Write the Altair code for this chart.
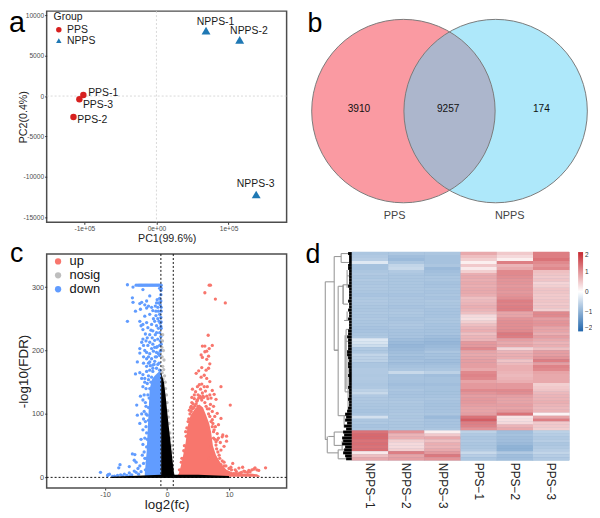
import altair as alt
import pandas as pd

FONT = "Liberation Sans"

# ---------- panel a: PCA ----------
pca_samples = ["PPS-1", "PPS-3", "PPS-2", "NPPS-1", "NPPS-2", "NPPS-3"]
pca_group = ["PPS", "PPS", "PPS", "NPPS", "NPPS", "NPPS"]
pca_pc1 = [-101400, -106900, -115100, 68800, 115500, 138400]
pca_pc2 = [120, -400, -2600, 8100, 6970, -12200]
pca_label_x = [-73900, -81200, -89000, 82000, 128300, 137600]
pca_label_y = [330, -1140, -3020, 9169, 8030, -10920]

# ---------- panel b: Venn ----------
venn_names = ["PPS", "NPPS"]
venn_cx = [405.8, 498.8]
venn_cy = [108.8, 108.8]
venn_counts = ["3910", "9257", "174"]
venn_count_x = [361, 451, 545]
venn_count_y = [107, 107, 107]
venn_name_x = [397, 513]
venn_name_y = [215, 215]

# ---------- panel c: volcano ----------
down_pts = [
 (-10.75,8),(-9.6,3),(-9.5,4.4),(-9.3,5),(-8.8,1.5),(-8.5,2),(-8.0,3),(-7.6,20),(-7.8,15),(-7.5,4),(-7.2,2),(-6.9,5),(-6.5,3),
 (-6.1,17),(-6.1,7),(-6,2),(-5.7,4),(-5.6,37),(-5.3,27),(-5.3,10),(-5.2,36),(-5,24),(-5,8),(-4.7,14),(-4.6,5),(-4.4,18),(-4.2,9),
 (-4.9,114),(-4.8,98),(-4.4,85),(-4.2,60),(-3.9,122),(-3.9,75),(-3.9,52),(-3.7,40),(-3.6,30),(-3.8,22),(-3.5,12),(-3.6,62),(-3.5,88),
 (-3.7,104),(-3.4,112),(-3.3,48),(-3.3,70),(-3.2,24),(-3.2,98),(-3.1,130),(-3.4,140),(-3.6,150),(-3.9,143),(-3.2,148),(-3.0,160),
 (-4.1,156),(-3.6,156),(-3,154),(-5.1,163),(-4.4,165),(-3.9,162),(-3.3,167),(-2.8,169),(-2.3,167),(-1.7,172),(-1.2,169),
 (-4.8,182),(-3.8,190),(-3.3,187),(-2.5,187),(-1.7,190),(-1.2,192),(-3.8,180),(-3,180),(-2.3,177),(-1.3,180),(-2.7,176),(-2,183),(-1.5,178),
 (-4.4,203),(-4.4,196),(-3.3,197),(-2.8,195),(-1.7,197),(-2.2,199),(-1.1,199),(-3.6,200),(-3.1,208),(-2.5,203),(-2,205),(-1.2,208),(-1.6,206),
 (-3.9,218),(-4.1,213),(-2.8,213),(-2,216),(-1.5,218),(-3.4,215),(-1.1,215),(-2.4,220),
 (-3.9,233),(-3.1,236),(-2.3,231),(-1.7,228),(-1.2,228),(-3.5,226),(-2.8,225),(-1.0,222),
 (-6.4,246),(-4.4,246),(-4.2,239),(-3.9,241),(-3.3,244),(-2,246),(-2.5,241),(-1.7,239),(-1.3,246),(-1,238),(-1.1,243),
 (-5.1,262),(-3.6,254),(-2.8,257),(-1.2,257),(-2.3,263),(-1.0,252),(-1.5,250),(-0.95,262),
 (-5.6,283),(-5.5,276),(-4.4,274),(-4.1,276),(-3.3,278),(-3.6,272),(-3,270),(-1.7,275),(-1.3,275),(-1.9,270),(-1.5,268),(-4.3,265),(-3.3,267),
 (-1.1,272),(-1.0,278),(-1.2,282),(-0.95,268),(-2.8,286),(-3.9,296),(-1.6,280),(-1.0,288),(-1.0,295),
 (-6.4,303.6),(-5.5,300),(-5.0,303),(-4.7,303),(-4.5,303),(-4.3,303),(-4.1,303),(-3.9,303),(-3.7,303),(-3.5,303),(-3.3,303),(-3.1,303),
 (-2.9,303),(-2.7,303),(-2.5,303),(-2.3,303),(-2.1,303),(-1.9,303),(-1.7,303),(-1.5,303),(-1.3,303),(-1.1,303),(-0.95,303),
 (-0.95,298),(-1.2,298),(-0.95,235),(-0.95,210),
 (-3.1,20),(-3.4,30),(-3.2,60),(-3,90),(-3.0,110),(-2.9,125),(-2.8,140),(-2.6,150),(-2.5,158),(-2.3,172),(-2.1,178),(-1.9,190),(-1.4,195),
 (-1.0,200),(-1.7,205),(-2.8,182),(-3.3,175),(-3.0,190),(-2.3,210),(-1.9,225),(-2.6,232),(-3.2,220),(-1.4,235),(-0.95,245),(-1.8,255),
 (-2.2,250),(-1.4,262),(-2.5,268),(-1.8,262),(-3.8,208),(-3.5,118),(-3.7,130),(-3.8,92),(-3.4,80),(-4.0,35),(-3.4,100),(-4.1,100),(-4.3,128),
]
up_pts = [
 (6.8,303),(7.0,303),(6.1,291),(7.8,281),(9.4,275),(6.64,224),(7.3,208),(5.7,207),(6.1,207),(6.8,203),(6.1,198),(6.4,199),(5.5,193),(6.7,191),
 (5.7,189),(6.4,186),(6.9,179),(5.6,173),(5.1,168),(4.7,164),(6.7,172),(6.3,169),(6,161),(5.5,158),(6.4,156),(6.9,151),(5.2,146),(5.6,147),
 (6,143),(4.1,139),(4.9,143),(6.5,143),(8.7,143),(7.3,137),(7.6,131),(10.2,114),(7.9,123),(4,126),(4.6,135),(5.4,139),(6.2,136),(5.7,133),
 (6.9,130),(5.0,130),(4.4,124),(4.8,120),(6.6,124),(7.1,125),(7.0,115),(3.9,112),(4.2,116),(7.5,112),(6.8,108),(5.5,125),(6.1,118),(3.6,106),
 (8.1,101),(8.7,93),(7.3,104),(7.7,96),(8.3,83),(7.3,91),(7.6,75),(9,67),(9.6,65),(9.6,57),(8.9,64),(8.1,69),(8.1,59),(9.2,49),(7.9,51),(8.7,43),
 (7,48),(8.4,35),(7.3,38),(6.8,30),(7.8,80),(8.3,62),(7.5,62),(8.6,55),(7.4,85),(3.0,72),(3.1,65),(2.8,50),(2.4,30),(3.4,88),
 (8.7,20),(10.6,22),(9.2,18),(10.3,16),(12.2,16),(11.6,14.7),(11,12),(14.2,15),(14.5,12),(14.8,11),(15.9,15),(13.2,11),(13.7,12),(12.6,9),(12,8),
 (11.7,6.5),(10.8,6),(14,13),(13.4,9),
 (3.7,100),(3.9,104),(4.1,108),(4.3,110),(4.5,113),(4.7,116),(4.9,122),(5.1,125),(5.3,128),(5.6,122),(5.9,126),(6.3,112),(6.5,108),(6.7,100),
 (6.9,96),(7.1,88),(7.3,80),(7.5,72),(7.7,60),(7.9,56),(8.0,45),(8.2,40),(8.5,30),(8.9,26),(9.2,24),(9.5,18),(10,14),(10.4,12),(11.2,9),(12.4,10),
 (13,8),(2.0,12),(2.3,24),(2.7,42),(3.2,78),(3.5,92),(4.0,118),(5.0,112),(4.4,130),(5.8,128),(6.4,128),(3.8,110),
]
nosig_pts = [
 (-0.7,225),(-0.75,215),(-0.6,200),(-0.8,190),(-0.5,185),(-0.7,175),(-0.55,170),(-0.4,160),(-0.3,150),(-0.25,140),(-0.1,130),
 (0,118),(0.1,105),(0.2,95),(0.3,85),(0.45,70),(0.5,62),(0.7,50),(0.8,40),(-0.85,205),(-0.8,165),(-0.65,155),
]
down_edge_x = [-3.6, -3.3, -3.0, -2.8, -2.4, -2.0, -1.5, -0.9]
down_edge_y = [6, 40, 100, 140, 155, 160, 165, 170]
up_edge_x = [1.6, 1.9, 2.2, 2.6, 3.0, 3.3, 3.8, 4.5, 5.2, 5.8, 6.3, 6.8, 7.1, 7.4, 7.9, 8.5, 9, 9.6, 10.5, 12, 13.5, 14.5, 15]
up_edge_y = [2, 6, 17, 35, 55, 80, 98, 108, 115, 110, 98, 85, 72, 50, 35, 25, 18, 12, 8, 6, 6, 5, 2]
wedge_x = [-0.95, -0.5, -0.2, 0, 0.3, 0.6, 0.9, 1.1, 1.25]
wedge_y = [165, 150, 125, 105, 78, 52, 25, 8, 1]
band_x = [-9, -6, -1, 5, 10]
band_y = [1, 2, 4, 4, 2]
fc_lines = [-1, 1]
fdr_lines = [0]

# ---------- panel d: heatmap ----------
heat_samples = ["NPPS−1", "NPPS−2", "NPPS−3", "PPS−1", "PPS−2", "PPS−3"]
NPPS_1 = [-.75,-.7,-.65,-.3,-.8,-.8,-.75,-.7,-.75,-.7,-.75,-.72,-.72,-.75,-.78,-.72,-.7,-.72,-.75,-.75,
          -.72,-.75,-.72,-.75,-.75,-.78,-.78,-.75,-.72,-.3,-.35,-.45,-.7,-.72,-.55,-.6,-.6,-.75,-.75,-.7,
          -.7,-.72,-.7,-.72,-.75,-.72,-.6,-.5,-.7,-.72,-.72,-.75,-.75,-.78,-.75,-.4,-.75,-.72,-.78,-.75,
          1.3,1.4,1.4,1.3,1.35,1.3,1.35,.2,.6,.8]
NPPS_2 = [-.75,-.85,-.9,-.75,-.55,-.5,-.7,-.75,-.75,-.75,-.75,-.75,-.75,-.75,-.78,-.75,-.75,-.75,-.78,-.75,
          -.72,-.75,-.78,-.75,-.72,-.75,-.78,-.78,-.78,-.85,-.9,-.95,-.9,-.85,-.8,-.85,-.8,-.85,-.8,-.75,
          -.5,-.8,-.78,-.8,-.85,-.8,-.75,-.78,-.78,-.75,-.72,-.75,-.75,-.75,-.72,-.75,-.72,-.75,-.75,-.75,
          1.0,.7,.75,.45,.35,.35,.45,1.2,.85,.9]
NPPS_3 = [-.75,-.8,-.8,-.8,-.75,-.9,-.85,-.8,-.75,-.75,-.8,-.78,-.75,-.78,-.75,-.78,-.72,-.75,-.75,-.78,
          -.78,-.78,-.75,-.75,-.78,-.78,-.8,-.78,-.85,-.9,-.95,-.9,-.85,-.75,-.8,-.8,-.85,-.85,-.8,-.75,
          -.6,-.85,-.8,-.8,-.85,-.8,-.8,-.8,-.78,-.75,-.78,-.8,-.78,-.78,-.75,-.9,-.78,-.78,-.78,-.75,
          .15,.5,.8,.6,.75,.7,.8,.95,1.25,1.0]
PPS_1 = [.8,.6,.45,.15,.5,.2,.45,.75,.8,.75,.8,.75,.8,.8,.75,.6,.65,.7,.75,.7,
         .6,.35,.3,.45,.6,.7,.75,.6,.7,.7,.95,.95,1.1,.85,.8,.85,.9,.9,.9,.8,
         1.1,1.15,1.1,.85,.95,.95,1.1,1.0,.9,.95,.95,.9,.85,.85,.9,1.3,1.5,1.2,1.15,1.0,
         -.6,-.7,-.75,-.7,-.75,-.75,-.7,-.5,-.65,-.75]
PPS_2 = [.5,.35,.15,1.2,.7,.8,1.1,1.1,1.05,1.0,1.0,.95,1,.95,1.0,1.05,1.2,1.15,1.2,1.2,
         .85,.85,1.0,1.05,1.05,1.05,1.1,1.25,1.2,.9,.8,.85,.4,.7,.75,.75,.55,.65,.75,.75,
         .7,.65,.7,.75,.95,.95,1.1,1.05,.9,.85,.85,.9,.85,.95,1.3,.25,.3,.35,.7,.8,
         -.85,-.8,-.85,-.85,-.9,-1.0,-1.0,-.7,-.85,-.85]
PPS_3 = [1.2,1.2,1.3,1.1,1.0,1.1,.6,.55,.5,.55,.4,.45,.55,.55,.5,.5,.55,.5,.55,.45,
         1.1,1.1,.9,1.0,1.0,.85,.85,.75,.9,.8,.7,.75,.6,.9,.9,1.0,1.2,.9,1.15,1.1,
         .85,.8,.8,.8,.45,.5,.55,.65,.7,.7,.75,.7,.65,.7,.1,.85,1.2,.5,.5,.45,
         -.6,-.65,-.7,-.65,-.75,-.7,-.65,-.55,-.65,-.7]
heat_columns = [NPPS_1, NPPS_2, NPPS_3, PPS_1, PPS_2, PPS_3]

leaf_len = [4,3,3,3,4,4,3,3,3,3,3,4,3,3,3,3,4,3,3,4,
            3,3,4,3,3,3,4,4,5,4,4,4,4,5,5,4,3,4,4,3,
            3,4,3,3,3,4,3,3,3,4,3,3,4,5,7,6,7,5,8,6,
            9,8,10,9,10,7,8,9,7,6]
# dendrogram segments: height from, height to, row from, row to
seg_d1 = [27,27,27,18,18,18,11,11,11,18,14,14,14,9,9,9,5,8,7,6,5,4,8,8,
          25,27,18,24,18,18,10,10,25,14,14,14,9,6,6,4,7,5]
seg_d2 = [27,18,25,18,11,14,11,3,3,14,14,9,7,9,3,4,5,4,7,3,5,4,8,3,
          25,25,18,18,6,10,10,4,14,14,8,6,9,3,6,2,2,2]
seg_r1 = [10,10,63,1.5,1.5,33,.5,.5,3.5,33,11.5,11.5,55,11,11,17.5,20,23,28,30,6,33,55,55,
          62,63,60.5,62,60.5,65,63.5,63.5,67.5,66.5,66.5,69.5,11,26,26,40,47,8]
seg_r2 = [63,10,63,33,1.5,33,3.5,.5,3.5,33,55,11.5,55,17.5,11,17.5,23,23,47,30,12,54,59,55,
          67.5,63,65,62,60.5,65,66.5,63.5,67.5,69.5,66.5,69.5,17.5,26,46,40,47,8]

# ---------- helpers ----------
def letter(ch, x, y, size=27):
    return alt.Chart(pd.DataFrame({"t": [ch]})).mark_text(
        font=FONT, fontSize=size, align="left", baseline="alphabetic", color="black"
    ).encode(text="t:N", x=alt.value(x), y=alt.value(y))

frame = alt.ViewConfig(stroke="#4d4d4d", strokeWidth=1.5)
noframe = alt.ViewConfig(stroke="transparent")
INDEP = dict(color="independent", shape="independent", stroke="independent", x="independent", y="independent")

# ---------- build a ----------
a_df = pd.DataFrame({"pc1": pca_pc1, "pc2": pca_pc2, "group": pca_group, "sample": pca_samples,
                     "lx": pca_label_x, "ly": pca_label_y})
a_xs = alt.Scale(domain=[-152300, 180600], nice=False, zero=False)
a_ys = alt.Scale(domain=[-15650, 10525], nice=False, zero=False)
ax_common = dict(grid=False, domain=False, labelFont=FONT, titleFont=FONT, tickColor="#333333",
                 labelColor="#4d4d4d", titleColor="#222222", tickSize=2, labelPadding=1)
a_xax = alt.Axis(values=[-100000, 0, 100000], labelExpr="datum.value==0?'0e+00':(datum.value<0?'-1e+05':'1e+05')",
                 title="PC1(99.6%)", labelFontSize=6.7, titleFontSize=10.8, titleFontWeight="normal",
                 titlePadding=1, **ax_common)
a_yax = alt.Axis(values=[-15000, -10000, -5000, 0, 5000, 10000], labelExpr="''+datum.value",
                 title="PC2(0.4%)", labelFontSize=6.7, titleFontSize=10.8, titleFontWeight="normal",
                 titlePadding=-5, **ax_common)
def aX(f): return alt.X(f, scale=a_xs, axis=a_xax)
def aY(f): return alt.Y(f, scale=a_ys, axis=a_yax)
a_v = alt.Chart(pd.DataFrame({"pc1": [0]})).mark_rule(color="#cfcfcf", strokeDash=[2, 2], strokeWidth=0.8).encode(x=aX("pc1:Q"))
a_h = alt.Chart(pd.DataFrame({"pc2": [0]})).mark_rule(color="#cfcfcf", strokeDash=[2, 2], strokeWidth=0.8).encode(y=aY("pc2:Q"))
a_pts = alt.Chart(a_df).mark_point(filled=True, opacity=1).encode(
    x=aX("pc1:Q"), y=aY("pc2:Q"),
    color=alt.Color("group:N", scale=alt.Scale(domain=["PPS", "NPPS"], range=["#D7201F", "#1F78B4"]),
                    legend=alt.Legend(orient="none", legendX=7, legendY=1, title="Group", titleFont=FONT,
                                      labelFont=FONT, titleFontSize=10.5, titleFontWeight="normal",
                                      labelFontSize=10.5, symbolSize=30, rowPadding=0, padding=0, titlePadding=2,
                                      labelOffset=3, titleColor="#222222", labelColor="#222222")),
    shape=alt.Shape("group:N", scale=alt.Scale(domain=["PPS", "NPPS"], range=["circle", "triangle-up"])),
    size=alt.condition(alt.datum.group == "PPS", alt.value(42), alt.value(80)),
)
a_txt = alt.Chart(a_df).mark_text(font=FONT, fontSize=10.5, color="#1a1a1a").encode(
    x=aX("lx:Q"), y=aY("ly:Q"), text="sample:N")
panel_a = alt.layer(a_v, a_h, a_pts, a_txt, letter("a", -38, 21, 29)).properties(width=242, height=213, view=frame)

# ---------- build b ----------
b_xs = alt.Scale(domain=[327, 577], nice=False, zero=False)
b_ys = alt.Scale(domain=[222, 8], nice=False, zero=False)
def bX(f): return alt.X(f, scale=b_xs, axis=None)
def bY(f): return alt.Y(f, scale=b_ys, axis=None)
b_df = pd.DataFrame({"cx": venn_cx, "cy": venn_cy, "name": venn_names})
R_AREA = 34225
b_left = alt.Chart(b_df[b_df.name == "PPS"]).mark_circle(size=R_AREA, color="#FA9AA2", opacity=1).encode(x=bX("cx:Q"), y=bY("cy:Q"))
b_right = alt.Chart(b_df[b_df.name == "NPPS"]).mark_circle(size=R_AREA, color="#5DD1F5", opacity=0.5).encode(x=bX("cx:Q"), y=bY("cy:Q"))
b_ring = alt.Chart(b_df).mark_point(size=R_AREA, shape="circle", filled=False, color="#7a7a7a", strokeWidth=1, opacity=1).encode(x=bX("cx:Q"), y=bY("cy:Q"))
b_counts = alt.Chart(pd.DataFrame({"x": venn_count_x, "y": venn_count_y, "t": venn_counts})).mark_text(
    font=FONT, fontSize=10.2, color="#111111").encode(x=bX("x:Q"), y=bY("y:Q"), text="t:N")
b_names = alt.Chart(pd.DataFrame({"x": venn_name_x, "y": venn_name_y, "t": venn_names})).mark_text(
    font=FONT, fontSize=11, color="#444444").encode(x=bX("x:Q"), y=bY("y:Q"), text="t:N")
panel_b = alt.layer(b_left, b_right, b_ring, b_counts, b_names, letter("b", -18, 21, 27)).properties(width=250, height=214, view=noframe)

# ---------- build c ----------
c_xs = alt.Scale(domain=[-19.44, 19.3], nice=False, zero=False)
c_ys = alt.Scale(domain=[-16.8, 352], nice=False, zero=False)
c_xax = alt.Axis(values=[-10, 0, 10], labelExpr="''+datum.value", title="log2(fc)", labelFontSize=7.4,
                 titleFontSize=13.5, titleFontWeight="normal", titlePadding=-1, **ax_common)
c_yax = alt.Axis(values=[0, 100, 200, 300], title="-log10(FDR)", labelFontSize=7.4,
                 titleFontSize=13.5, titleFontWeight="normal", titlePadding=1, **ax_common)
def cX(f="x:Q"): return alt.X(f, scale=c_xs, axis=c_xax)
def cY(f="y:Q"): return alt.Y(f, scale=c_ys, axis=c_yax)
C_UP, C_NO, C_DOWN = "#F8766D", "#BEBEBE", "#619CFF"
pts_rows = ([{"x": p[0], "y": p[1], "g": "down"} for p in down_pts] +
            [{"x": p[0], "y": p[1], "g": "up"} for p in up_pts] +
            [{"x": p[0], "y": p[1], "g": "nosig"} for p in nosig_pts])
c_pts = alt.Chart(pd.DataFrame(pts_rows)).mark_circle(size=11, opacity=1).encode(
    x=cX(), y=cY(),
    color=alt.Color("g:N", scale=alt.Scale(domain=["up", "nosig", "down"], range=[C_UP, C_NO, C_DOWN]),
                    legend=alt.Legend(orient="none", legendX=5, legendY=1, title=None, labelFont=FONT,
                                      labelFontSize=13, symbolSize=40, rowPadding=-1.5, padding=0,
                                      labelOffset=5, labelColor="#111111", symbolType="circle")),
)
def area(xs, ys, color, base=0):
    d = pd.DataFrame({"x": xs, "y": ys, "y0": [base] * len(xs)})
    return alt.Chart(d).mark_area(color=color, opacity=1).encode(x=cX(), y=cY(), y2="y0:Q")
c_downarea = area(down_edge_x, down_edge_y, C_DOWN)
c_uparea = area(up_edge_x, up_edge_y, C_UP, 1)
c_wedge = area(wedge_x, wedge_y, "#000000")
c_band = area(band_x, band_y, "#000000", -1)
c_vl = alt.Chart(pd.DataFrame({"x": fc_lines})).mark_rule(color="#111111", strokeDash=[2, 2], strokeWidth=1).encode(x=cX())
c_hl = alt.Chart(pd.DataFrame({"y": fdr_lines})).mark_rule(color="#111111", strokeDash=[2, 2], strokeWidth=1).encode(y=cY())
panel_c = alt.layer(c_downarea, c_uparea, c_pts, c_wedge, c_band, c_vl, c_hl, letter("c", -37, 8, 27)).properties(
    width=242, height=236, view=frame)

# ---------- build d ----------
heat_rows = []
for name, col in zip(heat_samples, heat_columns):
    for r, v in enumerate(col):
        heat_rows.append({"sample": name, "row": r, "v": v, "seam": v})
heat_scale = alt.Scale(domain=[-2, 0, 2], range=["#2166AC", "#FFFFFF", "#C62830"], interpolate="rgb")
heat_x = alt.X("sample:N", sort=heat_samples,
               axis=alt.Axis(title=None, labelAngle=90, labelFont=FONT, labelFontSize=12, domain=False, ticks=False,
                             labelPadding=2, labelColor="#222222", grid=False),
               scale=alt.Scale(paddingInner=0, paddingOuter=0))
heat_y = alt.Y("row:O", axis=None, scale=alt.Scale(paddingInner=0, paddingOuter=0))
heat_df = pd.DataFrame(heat_rows)
heat_under = alt.Chart(heat_df).mark_rect(strokeWidth=0.6).encode(
    x=heat_x, y=heat_y, stroke=alt.Stroke("seam:Q", scale=heat_scale, legend=None))
heat_over = alt.Chart(heat_df).mark_rect().encode(
    x=heat_x, y=heat_y,
    color=alt.Color("v:Q", scale=heat_scale,
                    legend=alt.Legend(orient="none", legendX=228, legendY=0, title=None, gradientLength=80,
                                      gradientThickness=5, values=[-2, -1, 0, 1, 2], labelFont=FONT, labelFontSize=6.5,
                                      labelColor="#333333", padding=0, labelOffset=2,
                                      labelExpr="datum.value<0?'−'+(-datum.value):''+datum.value")))
panel_heat = alt.layer(heat_under, heat_over).resolve_legend(stroke="independent").properties(width=219, height=210, view=noframe)

d_xs = alt.Scale(domain=[27, 0], nice=False, zero=False)
d_ys = alt.Scale(domain=[70, 0], nice=False, zero=False)
d_seg = pd.DataFrame({"d1": seg_d1, "d2": seg_d2, "r1": seg_r1, "r2": seg_r2})
d_lines = alt.Chart(d_seg).mark_rule(color="#9a9a9a", strokeWidth=1.1).encode(
    x=alt.X("d1:Q", scale=d_xs, axis=None), x2="d2:Q",
    y=alt.Y("r1:Q", scale=d_ys, axis=None), y2="r2:Q")
leaf_df = pd.DataFrame({"d1": leaf_len, "d2": [0] * len(leaf_len), "r1": [i + 0.5 for i in range(len(leaf_len))]})
d_leaf = alt.Chart(leaf_df).mark_rule(color="#000000", strokeWidth=3).encode(
    x=alt.X("d1:Q", scale=d_xs, axis=None), x2="d2:Q", y=alt.Y("r1:Q", scale=d_ys, axis=None))
panel_dend = alt.layer(d_lines, d_leaf, letter("d", -20, 11, 27)).properties(width=27, height=210, view=noframe)

panel_d = alt.hconcat(panel_dend, panel_heat, spacing=0, bounds="flush").resolve_scale(**INDEP)

col1 = alt.vconcat(panel_a, panel_c, spacing=32, bounds="flush").resolve_scale(**INDEP)
col2 = alt.vconcat(panel_b, panel_d, spacing=16).resolve_scale(**INDEP)
chart = alt.hconcat(col1, col2, spacing=16).properties(padding={"left": 0, "top": -2, "right": -2, "bottom": -2}).resolve_scale(**INDEP).configure_view(stroke=None)

chart.save("out.html", embed_options={"renderer": "svg", "actions": False})
